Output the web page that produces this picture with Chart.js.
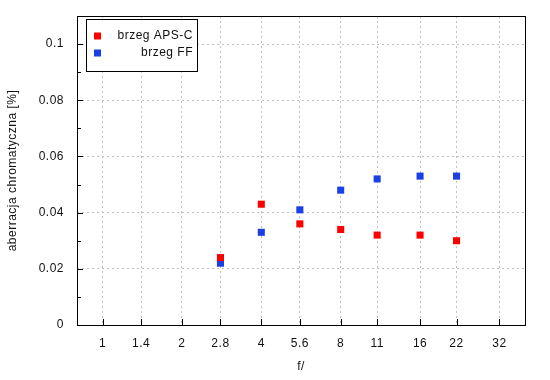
<!DOCTYPE html>
<html>
<head>
<meta charset="utf-8">
<script src="https://cdn.jsdelivr.net/npm/chart.js@4/dist/chart.umd.min.js"></script>
<style>
html,body{margin:0;padding:0;background:#fff;}
#wrap{width:550px;height:380px;}
</style>
</head>
<body>
<div id="wrap"><canvas id="c" width="550" height="380"></canvas></div>
<script>
const fStops = [1, 1.4, 2, 2.8, 4, 5.6, 8, 11, 16, 22, 32];
const fLabels = ['1', '1.4', '2', '2.8', '4', '5.6', '8', '11', '16', '22', '32'];
const dataF = [2.8, 4, 5.6, 8, 11, 16, 22];
const apsC = [0.024, 0.043, 0.036, 0.034, 0.032, 0.032, 0.030];
const ff = [0.022, 0.033, 0.041, 0.048, 0.052, 0.053, 0.053];
const seriesNames = ['brzeg APS-C', 'brzeg FF'];
const yTitle = 'aberracja chromatyczna [%]';
const xTitle = 'f/';

const RED = '#ff0000';
const BLUE = '#1a3fe6';
const FONT = 'Liberation Sans, Arial, sans-serif';
const TXT = '#111';

const spacing = {
  id: 'spacing',
  beforeInit(chart) { chart.ctx.letterSpacing = '0.5px'; },
  beforeLayout(chart) { chart.ctx.letterSpacing = '0.5px'; },
  beforeDraw(chart) { chart.ctx.letterSpacing = '0.5px'; }
};

const frame = {
  id: 'frame',
  afterDraw(chart) {
    const ctx = chart.ctx;
    const a = chart.chartArea;
    const xs = chart.scales.x, ys = chart.scales.y;
    ctx.save();
    ctx.strokeStyle = '#000';
    ctx.lineWidth = 1;
    ctx.beginPath();
    ys.ticks.forEach((t, i) => {
      const y = Math.round(ys.getPixelForValue(t.value)) + 0.5;
      const len = (i % 2 === 0) ? 6 : 4;
      ctx.moveTo(a.left, y); ctx.lineTo(a.left + len, y);
    });
    xs.ticks.forEach(t => {
      const x = Math.round(xs.getPixelForValue(t.value)) + 0.5;
      ctx.moveTo(x, a.bottom); ctx.lineTo(x, a.bottom - 6);
    });
    ctx.stroke();
    ctx.strokeRect(Math.round(a.left) + 0.5, Math.round(a.top) + 0.5,
                   Math.round(a.right - a.left), Math.round(a.bottom - a.top));
    const lx = Math.round(a.left) + 9, ly = Math.round(a.top) + 3, lw = 111, lh = 52;
    ctx.fillStyle = '#fff';
    ctx.fillRect(lx, ly, lw, lh);
    ctx.strokeRect(lx + 0.5, ly + 0.5, lw, lh);
    ctx.font = '12px ' + FONT;
    ctx.letterSpacing = '0.5px';
    ctx.textAlign = 'right';
    ctx.textBaseline = 'middle';
    chart.data.datasets.forEach((ds, i) => {
      const cy = ly + 17 + i * 17;
      ctx.fillStyle = ds.backgroundColor;
      ctx.fillRect(lx + 8, cy - 3.5, 7, 7);
      ctx.fillStyle = TXT;
      ctx.fillText(ds.label, lx + lw - 4, cy);
    });
    ctx.restore();
  }
};

new Chart(document.getElementById('c'), {
  type: 'scatter',
  data: {
    datasets: [
      { label: seriesNames[0], data: dataF.map((f, i) => ({x: f, y: apsC[i]})),
        backgroundColor: RED, borderColor: RED, borderWidth: 0,
        pointStyle: 'rect', pointRadius: 5, pointHoverRadius: 5 },
      { label: seriesNames[1], data: dataF.map((f, i) => ({x: f, y: ff[i]})),
        backgroundColor: BLUE, borderColor: BLUE, borderWidth: 0,
        pointStyle: 'rect', pointRadius: 5, pointHoverRadius: 5 }
    ]
  },
  options: {
    responsive: false,
    animation: false,
    events: [],
    layout: { padding: { left: 0, right: 25, top: 16, bottom: 0 } },
    plugins: { legend: { display: false }, tooltip: { enabled: false } },
    scales: {
      x: {
        type: 'logarithmic',
        min: 0.8, max: 40,
        afterBuildTicks: s => { s.ticks = fStops.map(v => ({ value: v })); },
        afterFit: s => { s.height = 55; s.paddingLeft = 0; s.paddingRight = 0; },
        border: { display: false, dash: [2, 3] },
        grid: { color: '#c0c0c0', lineWidth: 1, drawTicks: false },
        ticks: {
          autoSkip: false, maxRotation: 0, padding: 11,
          color: TXT, font: { family: FONT, size: 12 },
          callback: (v, i) => fLabels[i]
        },
        title: { display: true, text: xTitle, color: TXT,
                 font: { family: FONT, size: 12 }, padding: { top: 0, bottom: 6 } }
      },
      y: {
        min: 0, max: 0.11,
        afterBuildTicks: s => {
          const t = [];
          for (let i = 0; i <= 11; i++) t.push({ value: i / 100 });
          s.ticks = t;
        },
        afterFit: s => { s.width = 77; s.paddingTop = 0; s.paddingBottom = 0; },
        border: { display: false, dash: [2, 3] },
        grid: {
          drawTicks: false, lineWidth: 1,
          color: c => (c.index % 2 === 0 ? '#c0c0c0' : 'rgba(0,0,0,0)')
        },
        ticks: {
          padding: 13, color: TXT, font: { family: FONT, size: 12 },
          callback: (v, i) => (i % 2 === 0 ? String(Number(v.toFixed(2))) : '')
        },
        title: { display: true, text: yTitle, color: TXT,
                 font: { family: FONT, size: 12 }, padding: { top: 5, bottom: 0 } }
      }
    }
  },
  plugins: [spacing, frame]
});
</script>
</body>
</html>
